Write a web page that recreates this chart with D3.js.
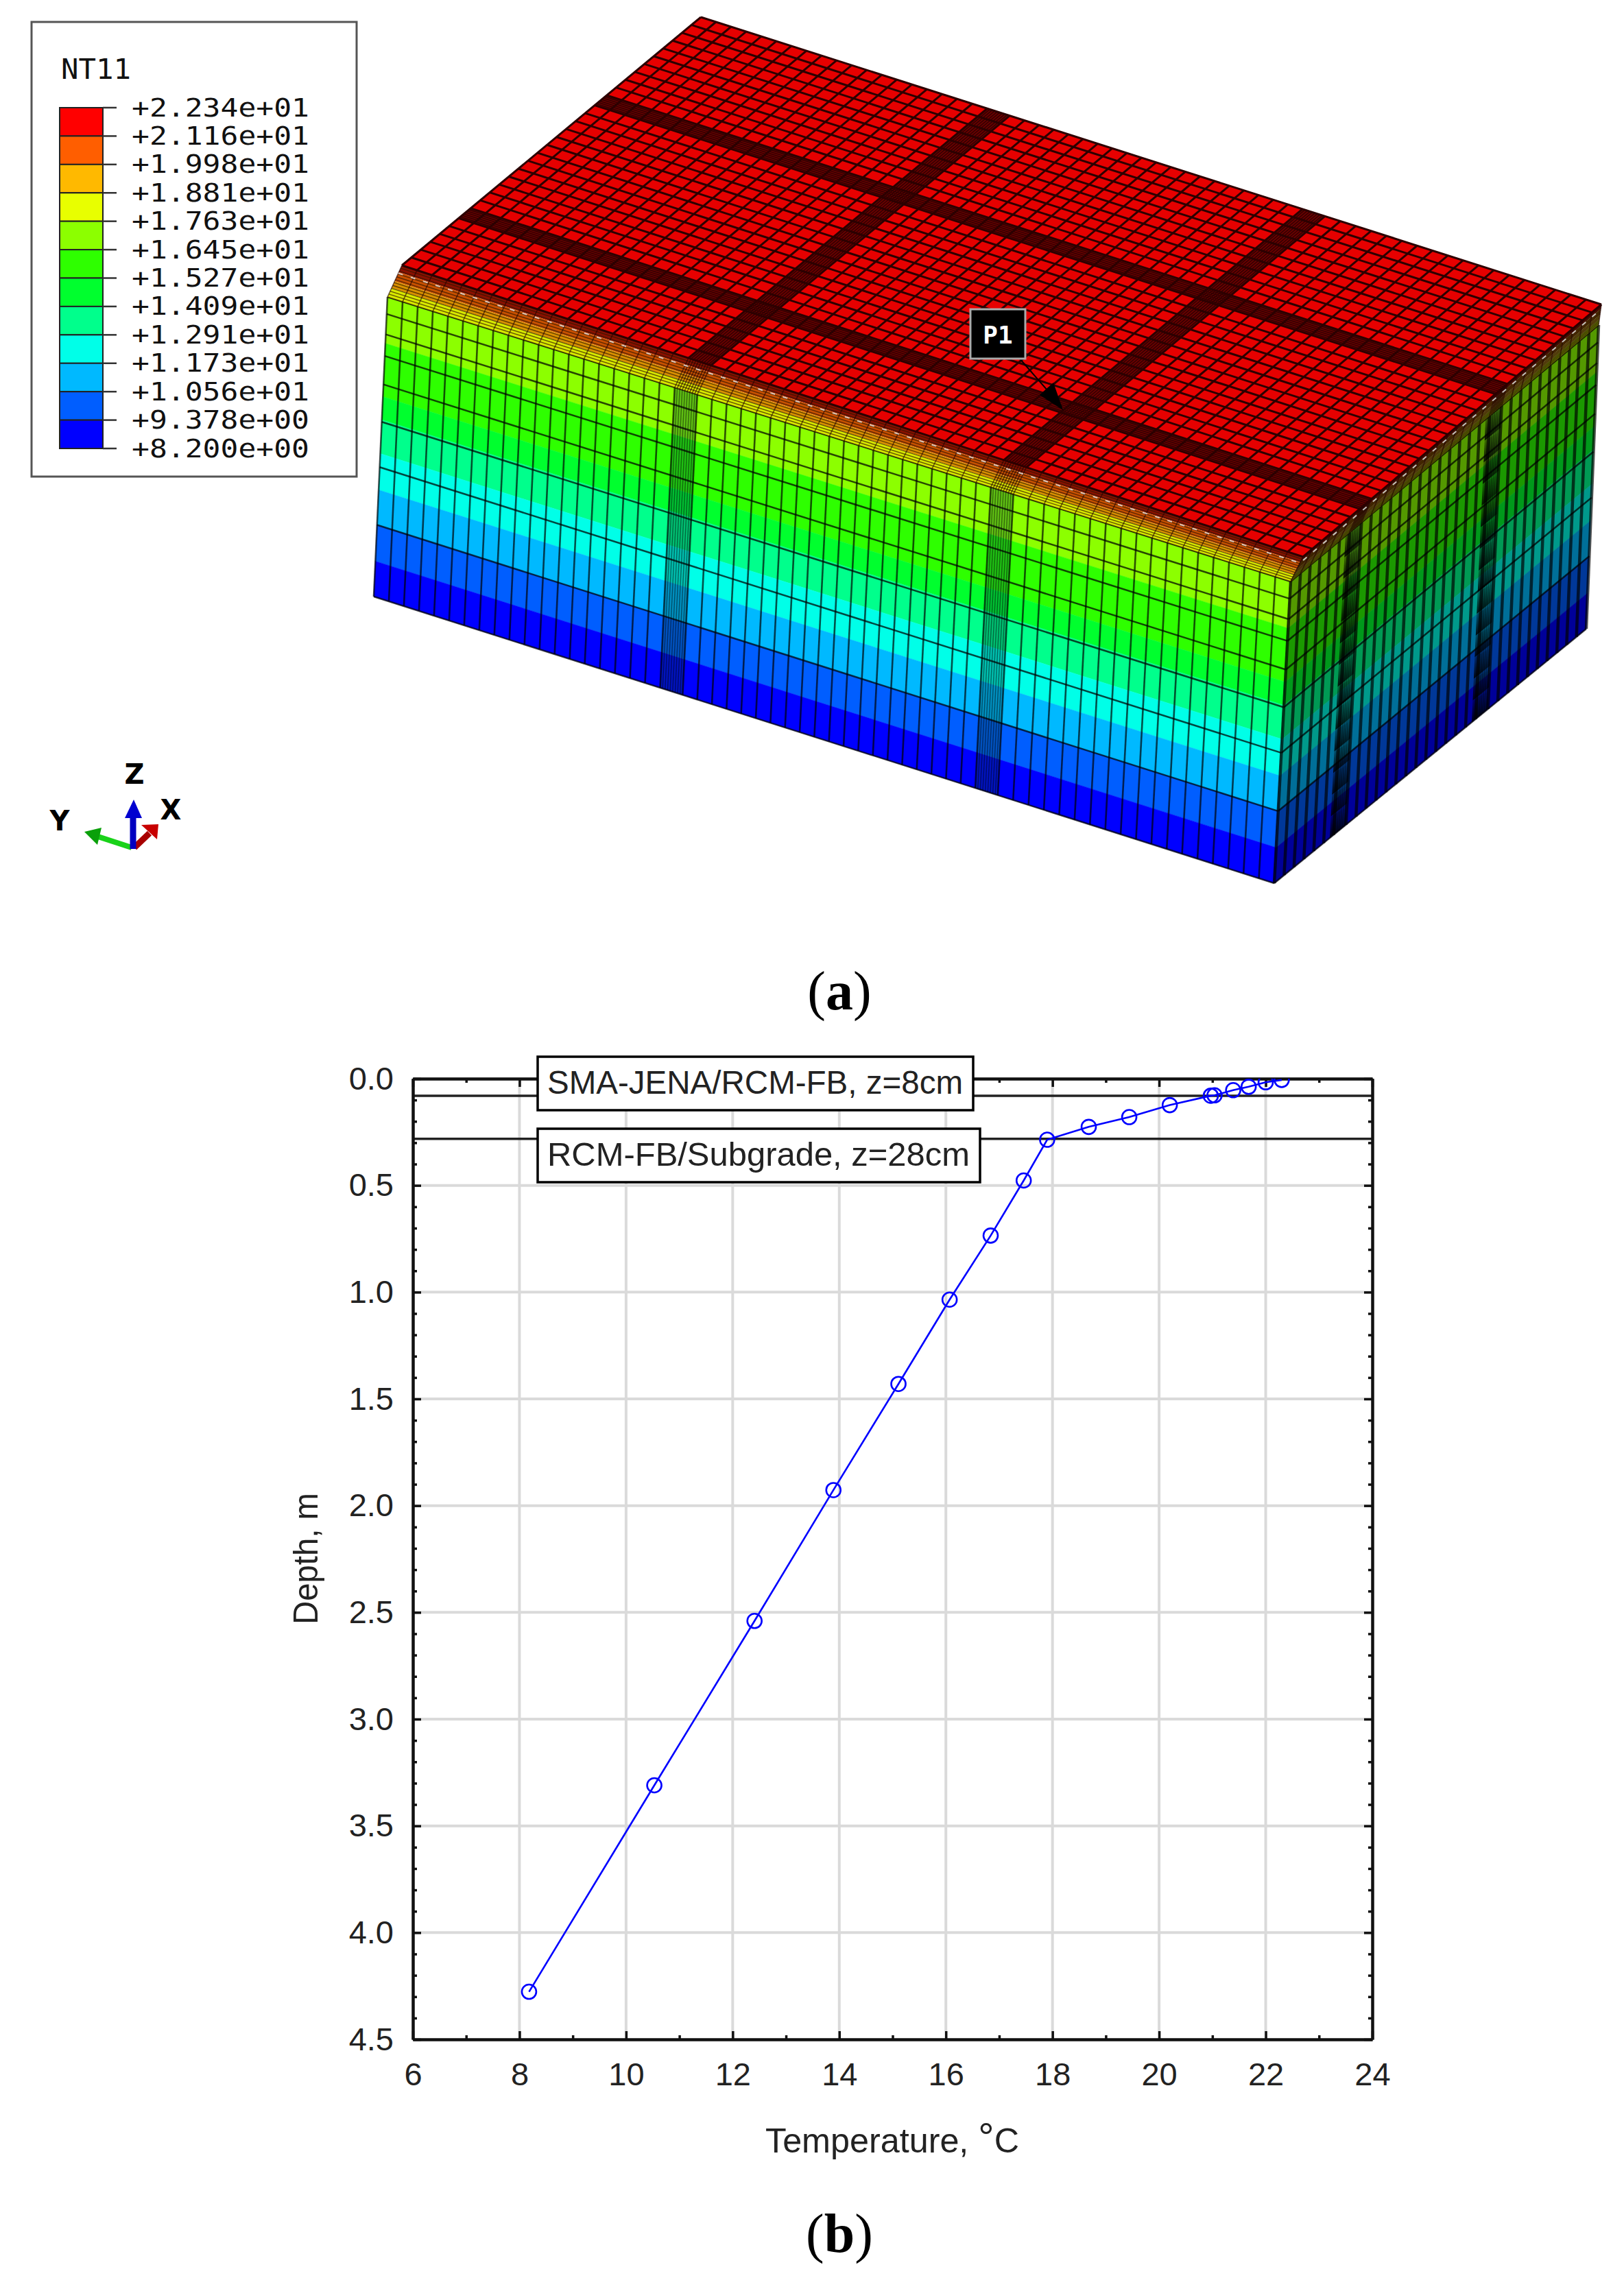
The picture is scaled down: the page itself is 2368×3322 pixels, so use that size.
<!DOCTYPE html>
<html><head><meta charset="utf-8">
<script src="https://cdn.jsdelivr.net/npm/d3@7"></script>
<style>html,body{margin:0;padding:0;background:#fff}svg{display:block}</style>
</head><body><svg id="c" width="2368" height="3322" viewBox="0 0 2368 3322"></svg>
<script>
// ---------- data ----------
const legendTitle = "NT11";
const legendLabels = ["+2.234e+01","+2.116e+01","+1.998e+01","+1.881e+01","+1.763e+01","+1.645e+01","+1.527e+01","+1.409e+01","+1.291e+01","+1.173e+01","+1.056e+01","+9.378e+00","+8.200e+00"];
const legendColors = ["#ff0000","#ff5e00","#ffb900","#e8ff00","#8cff00","#2eff00","#00ff2e","#00ff8c","#00ffe8","#00b9ff","#005eff","#0000ff"];
const temperature = [8.18,10.53,12.41,13.89,15.11,16.07,16.84,17.46,17.9,18.68,19.44,20.2,20.97,21.04,21.39,21.68,22.0,22.3];
const depth = [4.277,3.31,2.54,1.927,1.43,1.035,0.735,0.477,0.286,0.226,0.18,0.124,0.08,0.078,0.054,0.038,0.017,0.006];
const xMajor = [6,8,10,12,14,16,18,20,22,24];
const xMinor = [7,9,11,13,15,17,19,21,23];
const yMajor = [0,0.5,1,1.5,2,2.5,3,3.5,4,4.5];
const yMinor = d3.range(0,45).filter(i=>i%5).map(i=>i/10);
const refDepths = [0.08,0.282];
const refLabels = ["SMA-JENA/RCM-FB, z=8cm","RCM-FB/Subgrade, z=28cm"];
const xTitle = "Temperature, ", xUnit = "°", xUnitC = "C", yTitle = "Depth, m";
// mesh of the block: [from, to, number of elements]
const uSegments = [[0,.318,19],[.318,.343,9],[.343,.668,20],[.668,.693,9],[.693,1,18]];
const vSegments = [[0,.19,6],[.19,.23,7],[.23,.645,13],[.645,.685,7],[.685,1,10]];
const uJoints = [[.318,.343],[.668,.693]];
const vJoints = [[.19,.23],[.645,.685]];
const depthStops = [0,.155,.333,.41,.523,.644,.761,.882,1];
const depthColors = ["#8cff00","#2eff00","#00ff2e","#00ff8c","#00ffe8","#00b9ff","#005eff","#0000ff"];
const rowStops = [0,.057,.125,.197,.292,.417,.568,.761,1];
const stripStops = [0,.22,.5,.72,1];
const stripLeft = ["#8a1000","#c85000","#d89000","#d8e800"];
const stripRight = ["#600000","#5a3800","#7a6a18","#6a8a00"];

// ---------- layout ----------
const svg = d3.select("#c");
const defs = svg.append("defs");
const mix = (a,b,t)=>[a[0]+(b[0]-a[0])*t,a[1]+(b[1]-a[1])*t];
const bil = (p00,p10,p01,p11)=>(s,t)=>mix(mix(p00,p10,s),mix(p01,p11,s),t);
const A=[1022,25],B=[586,387],C=[1900,812],D=[2335,444];
const sL0=[565,433],sC0=[1882,848],sD0=[2331,474];
const sL1=[545,870],sC1=[1858,1288],sD1=[2313,917];
const topFace = bil(B,C,A,D);
const leftFace = bil(sL0,sC0,sL1,sC1);
const rightFace = bil(sC0,sD0,sC1,sD1);
const leftStrip = bil(B,C,sL0,sC0);
const rightStrip = bil(C,D,sC0,sD0);
const edges = segs=>{const e=[];segs.forEach(([a,b,n])=>{for(let i=0;i<n;i++)e.push(a+(b-a)*i/n)});e.push(segs[segs.length-1][1]);return e;};
const uEdges = edges(uSegments), vEdges = edges(vSegments);
const poly = (f,s0,s1,t0,t1)=>d3.line()([f(s0,t0),f(s1,t0),f(s1,t1),f(s0,t1)])+"Z";
const seg = (f,s0,t0,s1,t1)=>d3.line()([f(s0,t0),f(s1,t1)]);
const inJoint = (x,js)=>js.some(([a,b])=>x>a+1e-6&&x<b-1e-6);
const block = svg.append("g");

function side(f, sEdges, joints, shade, colW){
  const g = block.append("g");
  g.selectAll("path.b").data(d3.pairs(depthStops)).join("path")
    .attr("d",d=>poly(f,0,1,d[0],d[1]))
    .attr("fill",(d,i)=>depthColors[i]).attr("stroke",(d,i)=>depthColors[i]).attr("stroke-width",.5);
  if(shade) g.append("path").attr("d",poly(f,0,1,0,1)).attr("fill","#000").attr("opacity",shade);
  g.selectAll("path.o").data(joints).join("path")
    .attr("d",d=>poly(f,d[0],d[1],0,1)).attr("fill","#003a3a").attr("opacity",shade?.25:.32);
  g.selectAll("path.c").data(sEdges).join("path")
    .attr("d",d=>seg(f,d,0,d,1)).attr("fill","none").attr("stroke","#000")
    .attr("stroke-width",d=>inJoint(d,joints)?1.4:colW).attr("opacity",d=>inJoint(d,joints)?.45:.68);
  g.selectAll("path.r").data(rowStops).join("path")
    .attr("d",d=>seg(f,0,d,1,d)).attr("fill","none").attr("stroke","#000")
    .attr("stroke-width",2.5).attr("opacity",.72);
  return g;
}
side(leftFace,uEdges,uJoints,0,2.6);
const rg = side(rightFace,vEdges,vJoints,.4,4.5);

// stepped shadows of the joints on the shaded side
const jshade = defs.append("linearGradient").attr("id","jshade").attr("x1",0).attr("y1",0).attr("x2",0).attr("y2",1);
jshade.append("stop").attr("offset",0).attr("stop-color","#000").attr("stop-opacity",.05);
jshade.append("stop").attr("offset",1).attr("stop-color","#000").attr("stop-opacity",.9);
const jointSteps = d3.range(0,14).map(i=>i/14);
vJoints.forEach(([a,b])=>{
  rg.append("g").selectAll("path").data(jointSteps).join("path")
    .attr("d",t=>d3.line()([rightFace(a-.012,t),rightFace(b,t+.012),rightFace(b,t+1/14),rightFace(a-.012,t+1/14)])+"Z")
    .attr("fill","url(#jshade)");
});

function strip(f,cols,sEdges){
  const g = block.append("g");
  g.selectAll("path.b").data(d3.pairs(stripStops)).join("path")
    .attr("d",d=>poly(f,0,1,d[0],d[1])).attr("fill",(d,i)=>cols[i]);
  const fine = d3.range(0,1.0001,1/11);
  g.selectAll("path.r").data(fine).join("path").attr("d",d=>seg(f,0,d,1,d))
    .attr("fill","none").attr("stroke","#301800").attr("stroke-width",1.4).attr("opacity",.7);
  g.selectAll("path.c").data(sEdges).join("path").attr("d",d=>seg(f,d,0,d,1))
    .attr("fill","none").attr("stroke","#200").attr("stroke-width",1.6).attr("opacity",.6);
}
strip(leftStrip,stripLeft,uEdges);
strip(rightStrip,stripRight,vEdges);

// top face
const topG = block.append("g");
topG.append("path").attr("d",poly(topFace,0,1,0,1)).attr("fill","#e60000");
topG.selectAll("path.uj").data(uJoints).join("path").attr("class","uj").attr("d",d=>poly(topFace,d[0],d[1],0,1)).attr("fill","#6a0000");
topG.selectAll("path.vj").data(vJoints).join("path").attr("class","vj").attr("d",d=>poly(topFace,0,1,d[0],d[1])).attr("fill","#6a0000");
topG.selectAll("path.ul").data(uEdges).join("path").attr("class","ul").attr("d",d=>seg(topFace,d,0,d,1))
  .attr("fill","none").attr("stroke","#2c0000").attr("stroke-width",d=>inJoint(d,uJoints)?1.3:3);
topG.selectAll("path.vl").data(vEdges).join("path").attr("class","vl").attr("d",d=>seg(topFace,0,d,1,d))
  .attr("fill","none").attr("stroke","#2c0000").attr("stroke-width",d=>inJoint(d,vJoints)?1.3:3);
// speckled pale seam along the edges of the top face
block.append("path").attr("d",d3.line()([mix(B,sL0,.25),mix(C,sC0,.25),mix(D,sD0,.25)]))
  .attr("fill","none").attr("stroke","#e8e8e8").attr("stroke-width",2).attr("stroke-dasharray","7 12").attr("opacity",.8);

// P1 callout
const arrow = [[1486,522],[1548,593]];
block.append("path").attr("d",d3.line()(arrow)).attr("stroke","#000").attr("stroke-width",2).attr("fill","none");
block.append("path").attr("d",d3.line()([[1550,598],[1516,576],[1536,558]])+"Z").attr("fill","#000");
block.append("rect").attr("x",1415).attr("y",451).attr("width",80).attr("height",72).attr("fill","#000").attr("stroke","#aaa").attr("stroke-width",3);
block.append("text").attr("x",1455).attr("y",501).attr("text-anchor","middle").attr("fill","#fff")
  .attr("font-family","DejaVu Sans Mono").attr("font-weight","bold").attr("font-size",36).text("P1");

// ---------- contour legend ----------
const lg = svg.append("g");
lg.append("rect").attr("x",46).attr("y",32).attr("width",474).attr("height",663).attr("fill","#fff").attr("stroke","#555").attr("stroke-width",3);
const ly = d3.scaleLinear().domain([0,legendColors.length]).range([157,654]);
lg.selectAll("rect.k").data(legendColors).join("rect").attr("class","k")
  .attr("x",87).attr("width",63).attr("y",(d,i)=>ly(i)).attr("height",(d,i)=>ly(i+1)-ly(i))
  .attr("fill",d=>d).attr("stroke","#222").attr("stroke-width",2);
lg.selectAll("line").data(legendLabels).join("line")
  .attr("x1",150).attr("x2",170).attr("y1",(d,i)=>ly(i)).attr("y2",(d,i)=>ly(i)).attr("stroke","#333").attr("stroke-width",2.5);
lg.selectAll("text.l").data(legendLabels).join("text").attr("class","l")
  .attr("x",192).attr("y",(d,i)=>ly(i)+12.5).attr("textLength",259).attr("lengthAdjust","spacingAndGlyphs")
  .attr("font-family","DejaVu Sans Mono").attr("font-size",38).attr("fill","#111").text(d=>d);
lg.append("text").attr("x",89).attr("y",115).attr("textLength",102).attr("lengthAdjust","spacingAndGlyphs")
  .attr("font-family","DejaVu Sans Mono").attr("font-size",40).attr("fill","#111").text(legendTitle);

// ---------- triad ----------
const tr = svg.append("g");
tr.append("path").attr("d",d3.line()([[192,1236],[143,1220]])).attr("stroke","#19d219").attr("stroke-width",8);
tr.append("path").attr("d",d3.line()([[123,1213],[148,1207],[142,1232]])+"Z").attr("fill","#0aa00a");
tr.append("path").attr("d",d3.line()([[196,1236],[218,1215]])).attr("stroke","#a80000").attr("stroke-width",9);
tr.append("path").attr("d",d3.line()([[231,1202],[229,1224],[206,1203]])+"Z").attr("fill","#c80000");
tr.append("path").attr("d",d3.line()([[194,1238],[194,1190]])).attr("stroke","#0000c0").attr("stroke-width",9);
tr.append("path").attr("d",d3.line()([[195,1166],[207,1193],[182,1193]])+"Z").attr("fill","#0000d0");
[["Z",196,1143],["X",249,1195],["Y",87,1211]].forEach(([t,px,py])=>tr.append("text").attr("x",px).attr("y",py)
  .attr("text-anchor","middle").attr("font-family","DejaVu Sans").attr("font-weight","bold").attr("font-size",40).attr("fill","#000").text(t));

// captions
const cap=(cx,cy,t)=>{const e=svg.append("text").attr("x",cx).attr("y",cy).attr("text-anchor","middle")
  .attr("font-family","Liberation Serif").attr("font-size",80).attr("fill","#000");
  e.append("tspan").text("(");e.append("tspan").attr("font-weight","bold").text(t);e.append("tspan").text(")");};
cap(1224,1472,"a");cap(1224,3284,"b");

// ---------- depth profile ----------
const x = d3.scaleLinear().domain([6,24]).range([602,2001]);
const y = d3.scaleLinear().domain([0,4.5]).range([1573,2974]);
const chart = svg.append("g").attr("font-family","Liberation Sans");
defs.append("clipPath").attr("id","plot").append("rect").attr("x",602).attr("y",1573).attr("width",1399).attr("height",1401);
chart.append("g").selectAll("line").data(xMajor.slice(1,-1)).join("line")
  .attr("x1",d=>x(d)).attr("x2",d=>x(d)).attr("y1",y(0)).attr("y2",y(4.5)).attr("stroke","#dadada").attr("stroke-width",4);
chart.append("g").selectAll("line").data(yMajor.slice(1,-1)).join("line")
  .attr("x1",x(6)).attr("x2",x(24)).attr("y1",d=>y(d)).attr("y2",d=>y(d)).attr("stroke","#dadada").attr("stroke-width",4);
chart.append("g").selectAll("line").data(refDepths).join("line")
  .attr("x1",x(6)).attr("x2",x(24)).attr("y1",d=>y(d)).attr("y2",d=>y(d)).attr("stroke","#222").attr("stroke-width",3.5);
const axis=(gen,tx,ty,vals,size,fmt,pad)=>{
  const g=chart.append("g").attr("transform",`translate(${tx},${ty})`)
    .call(gen.tickValues(vals).tickSizeOuter(0).tickSizeInner(size).tickPadding(pad).tickFormat(fmt));
  g.select(".domain").attr("stroke","#111").attr("stroke-width",4);
  g.selectAll(".tick line").attr("stroke","#111").attr("stroke-width",3.5);
  g.selectAll("text").attr("font-size",47).attr("font-family","Liberation Sans").attr("fill","#222");
  return g;};
const none=()=>"";
axis(d3.axisBottom(x),0,y(4.5),xMajor,-12,d3.format("d"),34);
axis(d3.axisBottom(x),0,y(4.5),xMinor,-6,none,0);
axis(d3.axisTop(x),0,y(0),xMajor,-12,none,0);
axis(d3.axisTop(x),0,y(0),xMinor,-6,none,0);
axis(d3.axisLeft(y),x(6),0,yMajor,-12,d3.format(".1f"),28);
axis(d3.axisLeft(y),x(6),0,yMinor,-6,none,0);
axis(d3.axisRight(y),x(24),0,yMajor,-12,none,0);
axis(d3.axisRight(y),x(24),0,yMinor,-6,none,0);

const pts = temperature.map((t,i)=>[t,depth[i]]);
const curve = chart.append("g").attr("clip-path","url(#plot)");
curve.append("path").attr("d",d3.line().x(d=>x(d[0])).y(d=>y(d[1]))(pts)).attr("fill","none").attr("stroke","#0000ff").attr("stroke-width",2.6);
curve.selectAll("circle").data(pts).join("circle").attr("cx",d=>x(d[0])).attr("cy",d=>y(d[1])).attr("r",10.5)
  .attr("fill","none").attr("stroke","#0000ff").attr("stroke-width",2.6);

const boxes=[{x:784,y:1541,w:635,h:78,tx:798,ty:1595,tl:606},{x:784,y:1646,w:645,h:78,tx:798,ty:1700,tl:616}];
chart.selectAll("rect.note").data(boxes).join("rect").attr("class","note")
  .attr("x",d=>d.x).attr("y",d=>d.y).attr("width",d=>d.w).attr("height",d=>d.h)
  .attr("fill","#fff").attr("stroke","#000").attr("stroke-width",3.5);
chart.selectAll("text.note").data(boxes).join("text").attr("class","note")
  .attr("x",d=>d.tx).attr("y",d=>d.ty).attr("textLength",d=>d.tl).attr("lengthAdjust","spacingAndGlyphs")
  .attr("font-size",48).attr("fill","#222").text((d,i)=>refLabels[i]);

const xt = chart.append("text").attr("x",1116).attr("y",3139).attr("font-size",50).attr("fill","#222")
  .attr("textLength",370).attr("lengthAdjust","spacingAndGlyphs");
xt.append("tspan").text(xTitle);
xt.append("tspan").attr("font-size",58).attr("dy",-3).text(xUnit);
xt.append("tspan").attr("dy",3).text(xUnitC);
chart.append("text").attr("transform","translate(463,2273) rotate(-90)").attr("text-anchor","middle").attr("font-size",50).attr("textLength",192).attr("lengthAdjust","spacingAndGlyphs").attr("fill","#222").text(yTitle);
</script></body></html>
